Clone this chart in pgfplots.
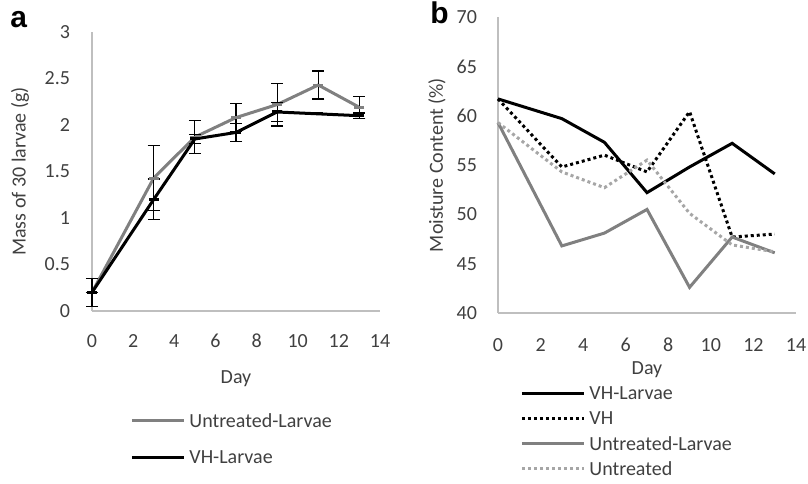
\documentclass[border=0pt]{standalone}
\usepackage{fontspec}
\setmainfont{Carlito}
\newfontfamily\panelfont{Liberation Sans}
\usepackage{pgfplots}
\pgfplotsset{compat=1.18}
\definecolor{txt}{HTML}{404040}
\definecolor{axisgray}{HTML}{BFBFBF}
\definecolor{midgray}{HTML}{808080}
\definecolor{lightgray}{HTML}{A6A6A6}

\begin{document}
\begin{tikzpicture}
\useasboundingbox (0,0) rectangle (404pt,-241.5pt);
\pgfplotsset{
  panel/.style={
    scale only axis,
    axis lines*=left,
    axis line style={axisgray, line width=0.8pt},
    tick style={draw=none},
    xmin=0, xmax=14, xtick={0,2,...,14},
    tick label style={font=\fontsize{10}{12}\selectfont, text=txt},
    label style={font=\fontsize{10}{12}\selectfont, text=txt},
    /pgf/number format/assume math mode=true,
    clip=false,
    legend style={draw=none, fill=none, font=\fontsize{10}{12}\selectfont,
      text=txt, anchor=north west, inner sep=0pt, cells={anchor=west},
      nodes={inner xsep=2pt, inner ysep=0.3pt, text height=7pt, text depth=0.5pt}},
  },
  dotline/.style={line width=1.5pt, dash pattern=on 1.5pt off 1.5pt},
}

% panel a
\begin{axis}[panel,
  at={(46pt,-155.5pt)}, anchor=south west,
  width=144pt, height=139.5pt,
  ymin=0, ymax=3, ytick={0,0.5,...,3},
  yticklabel style={xshift=-7.5pt},
  xticklabel style={anchor=center, yshift=-15pt},
  xlabel={Day}, ylabel={Mass of 30 larvae (g)},
  xlabel style={at={(axis description cs:0.5,-0.244)}, anchor=center},
  ylabel style={at={(axis description cs:-0.25,0.5)}, anchor=center},
  legend style={at={(axis description cs:0.132,-0.3635)}, row sep=10pt},
  legend image code/.code={\draw[mark repeat=2,mark phase=2,#1]
    plot coordinates {(0pt,0pt) (13pt,0pt) (26pt,0pt)};},
  error bars/error bar style={black, line width=0.6pt},
  error bars/error mark options={rotate=90, mark size=3pt, black, line width=0.6pt},
]
\addplot[midgray, line width=1.5pt, mark=-, mark size=2.5pt,
  error bars/.cd, y dir=both, y explicit] coordinates {
  (0,0.20) +- (0,0.15)
  (3,1.43) +- (0,0.35)
  (5,1.87) +- (0,0.18)
  (7,2.08) +- (0,0.15)
  (9,2.22) +- (0,0.23)
  (11,2.43) +- (0,0.15)
  (13,2.19) +- (0,0.12)
};
\addlegendentry{Untreated-Larvae}
\addplot[black, line width=1.5pt, mark=-, mark size=2.5pt,
  error bars/.cd, y dir=both, y explicit] coordinates {
  (0,0.20) +- (0,0.0)
  (3,1.20) +- (0,0.22)
  (5,1.85) +- (0,0.05)
  (7,1.92) +- (0,0.10)
  (9,2.14) +- (0,0.10)
  (11,2.12) +- (0,0.0)
  (13,2.10) +- (0,0.03)
};
\addlegendentry{VH-Larvae}
\end{axis}

% panel b
\begin{axis}[panel,
  at={(249pt,-156.5pt)}, anchor=south west,
  width=149pt, height=148pt,
  ymin=40, ymax=70, ytick={40,45,...,70},
  yticklabel style={xshift=-7pt},
  xticklabel style={anchor=center, yshift=-16pt},
  xlabel={Day}, ylabel={Moisture Content (\%)},
  xlabel style={at={(axis description cs:0.5,-0.192)}, anchor=center},
  ylabel style={at={(axis description cs:-0.205,0.5)}, anchor=center},
  legend style={at={(axis description cs:0.074,-0.242)}, row sep=4.5pt},
  legend image code/.code={\draw[#1] (0pt,0pt) -- (31pt,0pt);},
]
\addplot[black, line width=1.5pt] coordinates {
  (0,61.7) (3,59.7) (5,57.3) (7,52.2) (9,54.8) (11,57.2) (13,54.1)
};
\addlegendentry{VH-Larvae}
\addplot[black, dotline] coordinates {
  (0,61.7) (3,54.8) (5,56.0) (7,54.3) (9,60.4) (11,47.7) (13,48.0)
};
\addlegendentry{VH}
\addplot[midgray, line width=1.5pt] coordinates {
  (0,59.3) (3,46.8) (5,48.1) (7,50.5) (9,42.6) (11,47.7) (13,46.1)
};
\addlegendentry{Untreated-Larvae}
\addplot[lightgray, dotline] coordinates {
  (0,59.3) (3,54.3) (5,52.7) (7,55.5) (9,50.1) (11,46.9) (13,46.2)
};
\addlegendentry{Untreated}
\end{axis}

\node[font=\fontsize{15}{18}\selectfont\panelfont\bfseries, anchor=base west, inner sep=0pt] at (5pt,-13.5pt) {a};
\node[font=\fontsize{15}{18}\selectfont\panelfont\bfseries, anchor=base west, inner sep=0pt] at (215pt,-11.5pt) {b};
\end{tikzpicture}
\end{document}
